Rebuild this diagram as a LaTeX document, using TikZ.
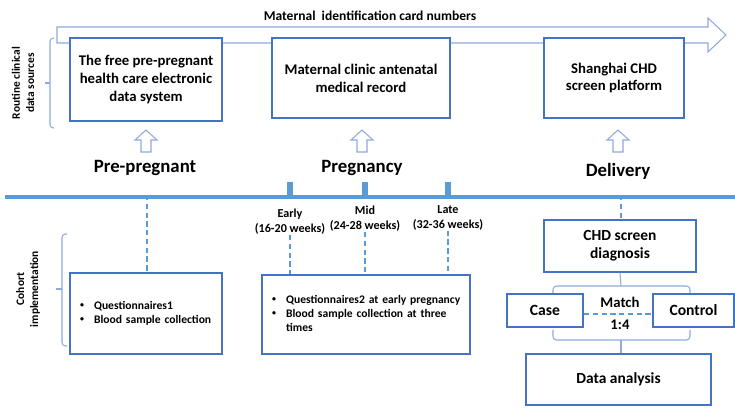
\documentclass[tikz,border=0pt]{standalone}
\usepackage{fontspec}
\setmainfont{Carlito}
\definecolor{boxblue}{RGB}{68,114,196}
\definecolor{lineblue}{RGB}{91,155,213}
\definecolor{paleblue}{RGB}{143,170,220}
\usetikzlibrary{calc}
\newcommand{\smalldot}{\raisebox{0.35ex}{\fontsize{4.5}{4.5}\selectfont\textbullet}}

\tikzset{
  srcbox/.style={draw=boxblue, line width=1.1pt, fill=white, align=center, inner sep=1pt,
    font=\fontsize{8.4}{10.2}\selectfont\bfseries},
  cohbox/.style={draw=boxblue, line width=1.1pt, fill=white, align=left, inner xsep=0.2cm,
    font=\fontsize{6.6}{8}\selectfont\bfseries},
  hollow/.style={draw=paleblue, line width=0.6pt, fill=white},
  bracket/.style={draw=paleblue, line width=0.6pt, rounded corners=2pt},
  phase/.style={font=\fontsize{10.7}{12}\selectfont\bfseries},
  week/.style={align=center, inner sep=0pt, font=\fontsize{6.9}{8.5}\selectfont\bfseries},
  side/.style={align=center, rotate=90, inner sep=0pt, font=\fontsize{6.5}{8}\selectfont\bfseries},
  timeline/.style={draw=lineblue, line width=2.6pt},
  dashline/.style={draw=lineblue, line width=1pt, dash pattern=on 3pt off 2pt}
}

\begin{document}
\begin{tikzpicture}[x=0.02cm, y=-0.02cm]
  \useasboundingbox (0,0) rectangle (735,412);

  \draw[hollow] (57,27) -- (708,27) -- (708,18) -- (726,35) -- (708,52) -- (708,43) -- (57,43) -- cycle;
  \node[font=\fontsize{7.7}{9}\selectfont\bfseries] (idcard) at (370,16) {Maternal\ \ identification card numbers};

  \node[side] (routine) at (23,83) {Routine clinical\\data sources};
  \draw[bracket] (54,38) -- (50,38) -- (50,128) -- (54,128);
  \draw[bracket] (50,83) -- (45,83);

  \node[srcbox, minimum width=3.04cm, minimum height=1.66cm] (freesys) at (146,79.5) {The free pre-pregnant\\health care electronic\\data system};
  \node[srcbox, minimum width=3.56cm, minimum height=1.6cm] (clinic) at (361,78) {Maternal clinic antenatal\\medical record};
  \node[srcbox, minimum width=2.8cm, minimum height=1.6cm] (platform) at (614,78) {Shanghai CHD\\screen platform};

  \foreach \x in {146,362,618}
    \draw[hollow] (\x,130) -- ++(11,10) -- ++(-6,0) -- ++(0,12) -- ++(-10,0) -- ++(0,-12) -- ++(-6,0) -- cycle;

  \node[phase] (prepreg) at (145,168) {Pre-pregnant};
  \node[phase] (preg) at (362,168) {Pregnancy};
  \node[phase] (deliv) at (618,171) {Delivery};

  \draw[timeline] (5,197) -- (735,197);
  \foreach \x in {290,365,448}
    \fill[lineblue] (\x-3,182) rectangle (\x+3,197);
  \coordinate (tpre) at (147,195);
  \coordinate (tdel) at (621,195);

  \node[week] (early) at (290,222) {Early\\(16-20 weeks)};
  \node[week] (mid) at (365,219) {Mid\\(24-28 weeks)};
  \node[week] (late) at (448,218) {Late\\(32-36 weeks)};

  \node[side] (cohort) at (28,289) {Cohort\\implementation};
  \draw[bracket] (67,234) -- (62,234) -- (62,346) -- (67,346);
  \draw[bracket] (62,289) -- (56,289);

  \node[cohbox, text width=2.64cm, minimum height=1.62cm] (quest1) at (146,313.5)
    {\begin{tabular}{@{}p{8pt}@{}l@{}}\smalldot & Questionnaires1\\ \smalldot & Blood sample collection\end{tabular}};
  \node[cohbox, text width=3.76cm, minimum height=1.58cm] (quest2) at (366,314.5)
    {\begin{tabular}{@{}p{8pt}@{}l@{}}\smalldot & Questionnaires2 at early pregnancy\\ \smalldot & Blood sample collection at three\\ & times\end{tabular}};

  \draw[dashline] (tpre) -- (tpre |- quest1.north);
  \draw[dashline] (early.south) -- (early.south |- quest2.north);
  \draw[dashline] (mid.south) -- (mid.south |- quest2.north);
  \draw[dashline] (late.south) -- (late.south |- quest2.north);

  \node[srcbox, font=\fontsize{8.8}{10.5}\selectfont\bfseries, minimum width=3.04cm, minimum height=1.04cm] (screen) at (620,246) {CHD screen\\diagnosis};
  \draw[dashline] (tdel) -- (tdel |- screen.north);

  \node[srcbox, font=\fontsize{8.9}{10}\selectfont\bfseries, minimum width=1.52cm, minimum height=0.66cm] (case) at (545,310.5) {Case};
  \node[srcbox, font=\fontsize{8.9}{10}\selectfont\bfseries, minimum width=1.62cm, minimum height=0.66cm] (control) at (693.5,310.5) {Control};
  \node[srcbox, font=\fontsize{8.8}{10}\selectfont\bfseries, minimum width=3.7cm, minimum height=1.02cm] (analysis) at (618.5,379.5) {Data analysis};

  \coordinate (upfork) at (621,286);
  \coordinate (lowfork) at (621,340);
  \draw[bracket] (553,293) -- (553,286) -- (690,286) -- (690,293);
  \draw[bracket] (screen.south) -- (upfork);
  \draw[bracket] (553,330) -- (553,340) -- (690,340) -- (690,330);
  \draw[bracket] (lowfork) -- (lowfork |- analysis.north);

  \draw[dashline] (case.east |- 0,314) -- (control.west |- 0,314);
  \node[font=\fontsize{8.4}{10}\selectfont\bfseries] (match) at (620,302) {Match};
  \node[font=\fontsize{8.4}{10}\selectfont\bfseries] (ratio) at (620,325) {1:4};
\end{tikzpicture}
\end{document}
